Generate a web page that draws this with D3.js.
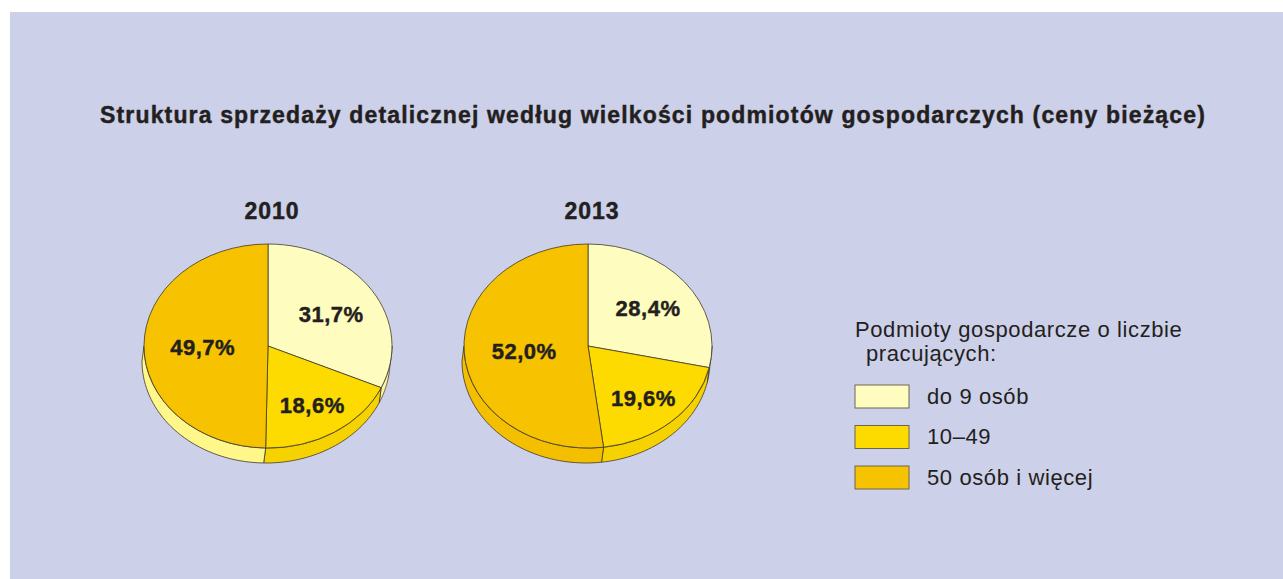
<!DOCTYPE html>
<html>
<head>
<meta charset="utf-8">
<script src="https://cdn.jsdelivr.net/npm/d3@7"></script>
<style>
  html, body { margin: 0; padding: 0; background: #fff; }
  svg { display: block; font-family: "Liberation Sans", Arial, Helvetica, sans-serif; }
  .heavy { font-weight: bold; stroke: #231f20; stroke-width: 0.45px; }
</style>
</head>
<body>
<svg id="chart" width="1283" height="579"></svg>
<script>
const title = 'Struktura sprzedaży detalicznej według wielkości podmiotów gospodarczych (ceny bieżące)';
const categories = ['do 9 osób', '10–49', '50 osób i więcej'];
const years = ['2010', '2013'];
const values2010 = [31.7, 18.6, 49.7];
const values2013 = [28.4, 19.6, 52.0];
const legendTitle = ['Podmioty gospodarcze o liczbie', 'pracujących:'];

const width = 1283;
const height = 579;
const rx = 124;
const ry = 102;
const depth = 15;
const textColor = '#231f20';
const edge = '#3d3a2a';

const svg = d3.select('#chart');

svg.append('rect')
  .attr('x', 10).attr('y', 12)
  .attr('width', width - 10).attr('height', height - 12)
  .attr('fill', '#cdd0e9');

svg.append('text')
  .attr('class', 'heavy')
  .attr('x', 653).attr('y', 123)
  .attr('text-anchor', 'middle')
  .style('font-size', '23px')
  .style('letter-spacing', '1.15px')
  .attr('fill', textColor)
  .text(title);

const color = d3.scaleOrdinal().domain(categories).range(['#fffcc0', '#fddb00', '#f7c200']);
// side colours of the 3d rim, per year
const sideColor = {
  '2010': d3.scaleOrdinal().domain(categories).range(['#fff3a0', '#f6d200', '#fff78a']),
  '2013': d3.scaleOrdinal().domain(categories).range(['#fff3a0', '#f6d200', '#f4bf00'])
};

const xPie = d3.scalePoint().domain(years).range([268, 588]);
const yPie = 346;

const pie = d3.pie().sort(null).value(d => d.value);
const arc = d3.arc().innerRadius(0).outerRadius(rx);
const fmt = v => d3.format('.1f')(v).replace('.', ',') + '%';

const series = { '2010': values2010, '2013': values2013 };

function pt(cx, cy, a, dy) {
  return [cx + rx * Math.sin(a), cy - ry * Math.cos(a) + (dy || 0)];
}

years.forEach(year => {
  const cx = xPie(year);
  const cy = yPie;
  const data = categories.map((c, i) => ({ name: c, value: series[year][i] }));
  const arcs = pie(data);
  const total = d3.sum(data, d => d.value);

  svg.append('text')
    .attr('class', 'heavy')
    .attr('x', cx + 4).attr('y', 219)
    .attr('text-anchor', 'middle')
    .style('font-size', '23px')
    .style('letter-spacing', '1px')
    .attr('fill', textColor)
    .text(year);

  // rim (visible lower half)
  const rim = svg.append('g');
  arcs.forEach(a => {
    const s = Math.max(a.startAngle, Math.PI / 2);
    const e = Math.min(a.endAngle, Math.PI * 1.5);
    if (e <= s) return;
    const steps = d3.range(0, 41).map(i => s + (e - s) * i / 40);
    const top = steps.map(t => pt(cx, cy, t));
    const bottom = steps.slice().reverse().map(t => pt(cx - 2, cy, t, depth));
    rim.append('path')
      .attr('d', d3.line()(top.concat(bottom)) + 'Z')
      .attr('fill', sideColor[year](a.data.name))
      .attr('stroke', edge)
      .attr('stroke-width', 0.8)
      .attr('stroke-linejoin', 'round');
  });

  // top face
  const g = svg.append('g')
    .attr('transform', `translate(${cx},${cy}) scale(1,${ry / rx})`);
  g.selectAll('path')
    .data(arcs)
    .enter().append('path')
    .attr('d', arc)
    .attr('fill', d => color(d.data.name))
    .attr('stroke', edge)
    .attr('stroke-width', 0.8)
    .attr('vector-effect', 'non-scaling-stroke');

  // labels
  svg.selectAll(null)
    .data(arcs)
    .enter().append('text')
    .attr('class', 'heavy')
    .attr('x', d => {
      const m = (d.startAngle + d.endAngle) / 2;
      const k = 0.75 - 0.45 * d.value / total;
      return cx + k * rx * Math.sin(m);
    })
    .attr('y', d => {
      const m = (d.startAngle + d.endAngle) / 2;
      const k = 0.75 - 0.45 * d.value / total;
      return cy - k * ry * Math.cos(m) + 10;
    })
    .attr('text-anchor', 'middle')
    .style('font-size', '22px')
    .style('letter-spacing', '0.5px')
    .attr('fill', textColor)
    .text(d => fmt(d.value));
});

// legend
const legend = svg.append('g');
legend.append('text')
  .attr('x', 855).attr('y', 337)
  .style('font-size', '22px').style('letter-spacing', '0.6px')
  .attr('fill', textColor)
  .text(legendTitle[0]);
legend.append('text')
  .attr('x', 866).attr('y', 361)
  .style('font-size', '22px').style('letter-spacing', '0.6px')
  .attr('fill', textColor)
  .text(legendTitle[1]);

const yLegend = d3.scaleBand().domain(categories).range([385, 489]).paddingInner(0.432);
const items = legend.selectAll('g.item')
  .data(categories)
  .enter().append('g')
  .attr('class', 'item')
  .attr('transform', d => `translate(855,${yLegend(d)})`);
items.append('rect')
  .attr('width', 54).attr('height', yLegend.bandwidth())
  .attr('fill', d => color(d))
  .attr('stroke', '#6a6450').attr('stroke-width', 1);
items.append('text')
  .attr('x', 72).attr('y', 19)
  .style('font-size', '22px').style('letter-spacing', '0.6px')
  .attr('fill', textColor)
  .text(d => d);
</script>
</body>
</html>
